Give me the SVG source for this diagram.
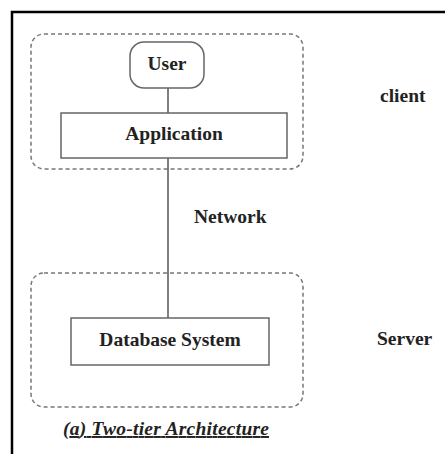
<svg xmlns="http://www.w3.org/2000/svg" width="445" height="454" viewBox="0 0 445 454">
<style>
.grp{fill:none;stroke:#777;stroke-width:1.5;stroke-dasharray:4 3}
.box{fill:#fff;stroke:#666;stroke-width:1.5}
.ln{stroke:#555;stroke-width:1.5;fill:none}
.t{font-family:"Liberation Serif","Times New Roman",serif;font-weight:bold;font-size:19.5px;fill:#222}
.m{text-anchor:middle}
</style>
<rect x="0" y="0" width="445" height="454" fill="#fff"/>
<rect x="12" y="12" width="500" height="500" fill="none" stroke="#000" stroke-width="2.5"/>
<g id="client-group">
<rect class="grp" x="31" y="34" width="272" height="135" rx="13"/>
</g>
<g id="server-group">
<rect class="grp" x="31" y="273" width="272" height="134" rx="13"/>
</g>
<g id="connectors">
<line class="ln" x1="168" y1="88" x2="168" y2="113"/>
<line class="ln" x1="168" y1="158" x2="168" y2="318"/>
</g>
<g id="user">
<rect class="box" x="130" y="42" width="74" height="46" rx="14"/>
<text class="t m" x="167" y="70">User</text>
</g>
<g id="application">
<rect class="box" x="61" y="113" width="226" height="45"/>
<text class="t m" x="174" y="140">Application</text>
</g>
<g id="database">
<rect class="box" x="71" y="318" width="198" height="47"/>
<text class="t m" x="170" y="346">Database System</text>
</g>
<text class="t" x="380" y="102">client</text>
<text class="t" x="194" y="223">Network</text>
<text class="t" x="377" y="345">Server</text>
<text class="t" x="63" y="435" font-style="italic" text-decoration="underline" textLength="206">(a) Two-tier Architecture</text>
</svg>
